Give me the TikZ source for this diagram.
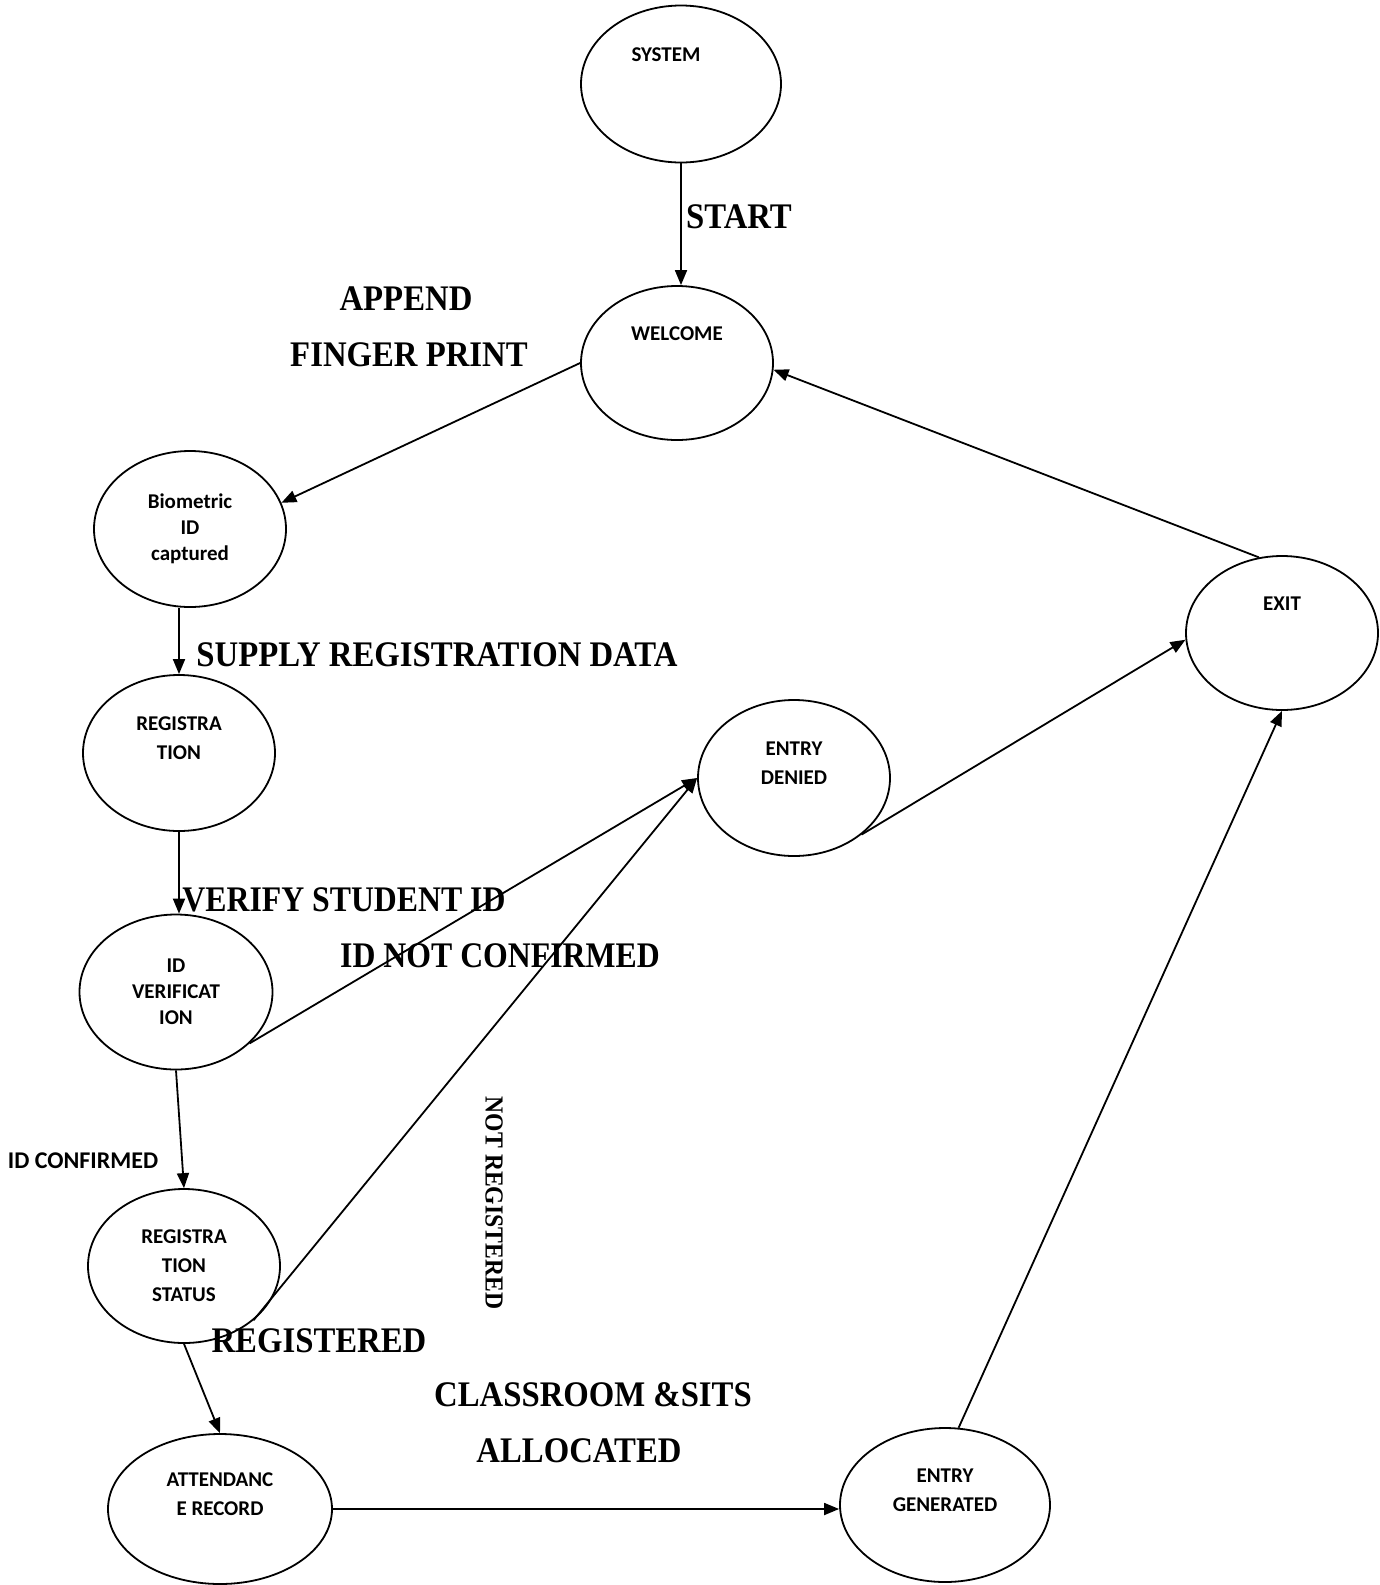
\documentclass[tikz,border=0pt]{standalone}
\usepackage{fontspec}
\setmainfont{Carlito}
\newfontfamily\lblfont[FakeStretch=0.91]{Liberation Serif}
\usetikzlibrary{shapes.geometric}
\usetikzlibrary{arrows.meta}
\tikzset{every picture/.style={line width=1.8pt}}
\begin{document}
\begin{tikzpicture}[x=1pt,y=-1pt,
state/.style={ellipse, draw, inner sep=0pt, align=center, font=\fontsize{21}{29}\selectfont\bfseries},
lbl/.style={inner sep=0pt, font=\lblfont\fontsize{36}{40}\selectfont\bfseries},
arr/.style={-{Triangle[length=15pt,width=12pt]}}]

\useasboundingbox (0,0) rectangle (1379,1585);

% states
\node (system)  at (681,84)   [state, minimum width=200pt, minimum height=157pt] {SYSTEM\hspace*{30pt}\\~\\~};
\node (welcome) at (677,363)  [state, minimum width=192pt, minimum height=154pt] {WELCOME\\~\\~};
\node (bio)     at (190,529)  [state, minimum width=192pt, minimum height=156pt] {Biometric\\[-3pt]ID\\[-3pt]captured};
\node (reg)     at (179,753)  [state, minimum width=192pt, minimum height=156pt] {REGISTRA\\TION\\~};
\node (idv)     at (176,992)  [state, minimum width=193pt, minimum height=155pt] {ID\\[-3pt]VERIFICAT\\[-3pt]ION};
\node (regst)   at (184,1266) [state, minimum width=192pt, minimum height=154pt] {REGISTRA\\TION\\STATUS};
\node (att)     at (220,1509) [state, minimum width=224pt, minimum height=150pt] {ATTENDANC\\E RECORD\\~};
\node (eg)      at (945,1505) [state, minimum width=210pt, minimum height=154pt] {ENTRY\\GENERATED\\~};
\node (ed)      at (794,778)  [state, minimum width=192pt, minimum height=156pt] {ENTRY\\DENIED\\~};
\node (exit)    at (1282,633) [state, minimum width=192pt, minimum height=154pt] {EXIT\\~\\~};

% transitions
\draw [arr] (system.south) -- (system.south |- welcome.north);
\draw [arr] (welcome.west) -- (bio.16);
\draw [arr] (reg.north |- bio.south) -- (reg.north);
\draw [arr] (reg.south) -- (reg.south |- idv.north);
\draw [arr] (idv.south) -- (regst.north);
\draw [arr] (regst.south) -- (att.north);
\draw [arr] (att.east) -- (att.east -| eg.west);
\draw [arr] (idv.-35) -- (ed.west);
\draw [arr] (regst.-38) -- (ed.west);
\draw [arr] (ed.-40) -- (exit.184);
\draw [arr] (eg.80) -- (exit.south);
\draw [arr] (exit.107) -- (welcome.-4);

% labels
\node (lstart)   at (739,217)  [lbl] {START};
\node (lappend)  at (406,299)  [lbl] {APPEND};
\node (lfinger)  at (409,355)  [lbl] {FINGER PRINT};
\node (lsupply)  at (437,655)  [lbl] {SUPPLY REGISTRATION DATA};
\node (lverify)  at (344,900)  [lbl, xscale=0.97] {VERIFY STUDENT ID};
\node (lnotconf) at (500,956)  [lbl, xscale=0.97] {ID NOT CONFIRMED};
\node (lconf)    at (83,1161)  [inner sep=0pt, font=\fontsize{24}{28}\selectfont\bfseries] {ID CONFIRMED};
\node (lnotreg)  at (494,1203) [lbl, rotate=-90, font=\lblfont\fontsize{26}{30}\selectfont\bfseries] {NOT REGISTERED};
\node (lreg)     at (319,1341) [lbl] {REGISTERED};
\node (lclass)   at (593,1395) [lbl] {CLASSROOM \&SITS};
\node (lalloc)   at (579,1451) [lbl] {ALLOCATED};

\end{tikzpicture}
\end{document}
